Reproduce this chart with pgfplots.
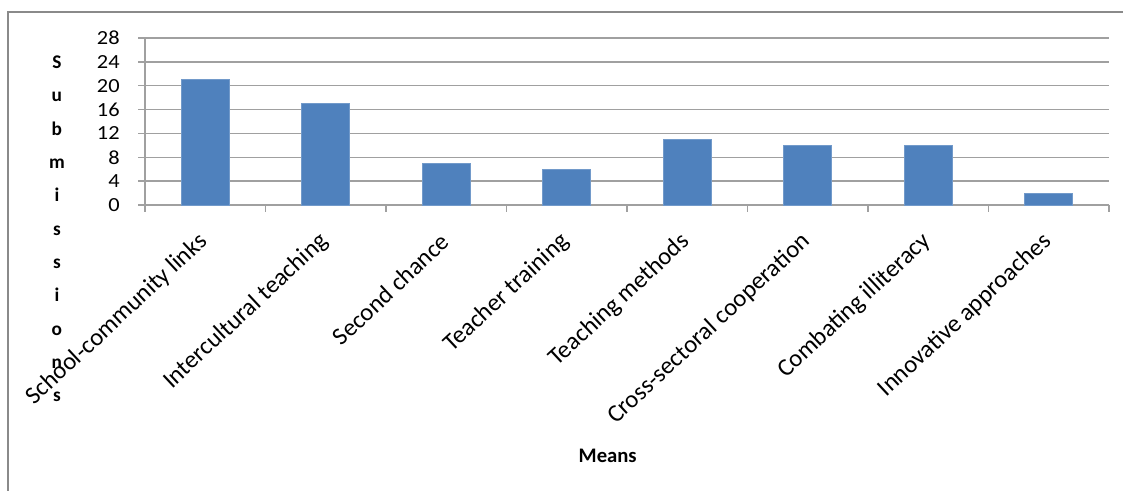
\documentclass[border=0pt]{standalone}
\usepackage{pgfplots}
\pgfplotsset{compat=1.18}
\usepackage{fontspec}
\setmainfont{Carlito}
\definecolor{barblue}{HTML}{4F81BD}
\definecolor{gridgray}{HTML}{A0A0A0}
\definecolor{framegray}{HTML}{8A8A8A}
\begin{document}
\begin{tikzpicture}
\useasboundingbox (0,0) rectangle (842.25pt,-368.25pt);
\draw[framegray, line width=1.5pt] (6pt,-368.25pt) -- (6pt,-9pt) -- (842.25pt,-9pt);
\begin{axis}[
  at={(108.75pt,-153.75pt)}, anchor=south west,
  scale only axis, width=723pt, height=125.25pt,
  xmin=-0.5, xmax=7.5, ymin=0, ymax=28,
  ybar, bar width=36pt,
  axis x line*=bottom, axis y line*=left,
  axis line style={gridgray, line width=1pt, -},
  ytick={0,4,...,28},
  ymajorgrids, grid style={gridgray, line width=1pt},
  xtick={0,...,7},
  xticklabels={School-community links, Intercultural teaching, Second chance, Teacher training, Teaching methods, Cross-sectoral cooperation, Combating illiteracy, Innovative approaches},
  minor xtick={-0.5,0.5,...,7.5},
  major x tick style={draw=none},
  minor x tick style={gridgray, line width=1pt},
  y tick style={gridgray, line width=1pt},
  tick align=outside, major tick length=5pt, minor tick length=5pt,
  /pgf/number format/assume math mode=true,
  yticklabel style={font=\fontsize{15}{17}\selectfont, xscale=1.12, xshift=-9pt},
  xticklabel style={font=\fontsize{18.5}{20}\selectfont, rotate=43, anchor=east, inner sep=1pt, yshift=-14pt, xshift=-13pt},
  xlabel={Means},
  xlabel style={font=\fontsize{15.5}{17}\selectfont\bfseries, at={(axis description cs:0.48,-1.5)}, anchor=center},
  ylabel={S\\u\\b\\m\\i\\s\\s\\i\\o\\n\\s},
  ylabel style={font=\fontsize{14.5}{25}\selectfont\bfseries, align=center, rotate=-90, at={(axis description cs:-0.0914,-0.143)}, anchor=center},
  clip=false,
]
\addplot[fill=barblue, draw=barblue!80!white] coordinates {(0,21) (1,17) (2,7) (3,6) (4,11) (5,10) (6,10) (7,2)};
\end{axis}
\end{tikzpicture}
\end{document}
